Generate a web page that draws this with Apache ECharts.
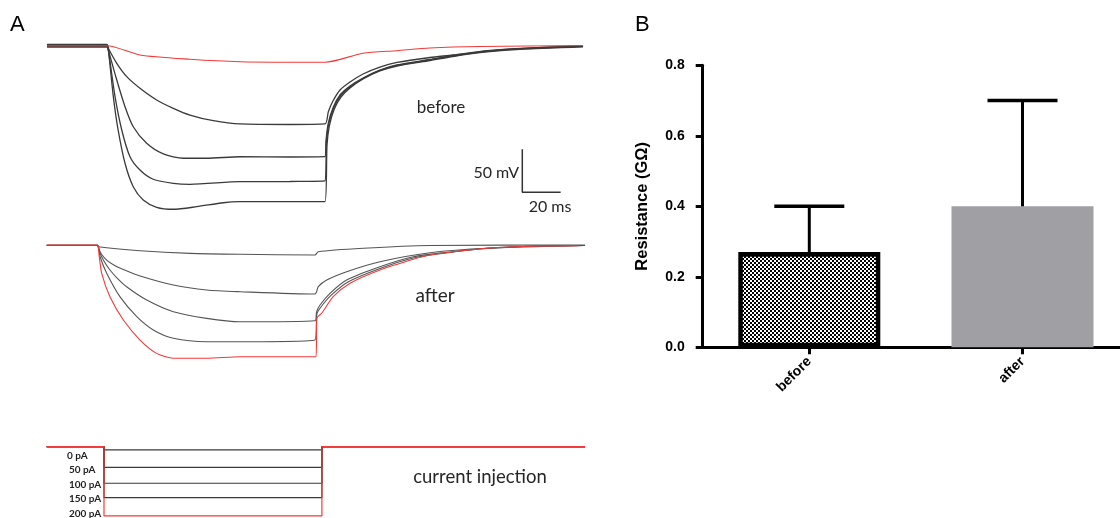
<!DOCTYPE html>
<html>
<head>
<meta charset="utf-8">
<script src="https://cdn.jsdelivr.net/npm/echarts@6/dist/echarts.min.js"></script>
<style>
html,body{margin:0;padding:0;background:#fff;overflow:hidden;width:1120px;height:518px;}
#chart{width:1130px;height:518px;}
</style>
</head>
<body>
<div id="chart"></div>
<script>
// ---------- Panel A: "before" traces (time in ms from pulse onset, membrane deflection in mV) ----------
const beforeRed = [[-31.3,0],[0,0],[17.2,-10.8],[43.3,-15.8],[69.4,-18.6],[113.7,-19.3],[133.6,-8.8],[151.3,-5.8],[168.5,-2.7],[194.6,-0.9],[248.4,0.2]];
const beforeT1 = [[-31.3,1.5],[0,1.5],[0.7,-3],[5.1,-20.5],[10.3,-36],[17.2,-49.5],[25.9,-63.1],[34.6,-72.8],[43.3,-80.6],[55.5,-87.2],[69.4,-91],[95.5,-91.6],[113.7,-91],[115.5,-76.7],[117.9,-64.3],[121.6,-51.5],[126.8,-42.2],[133.6,-32.9],[142.4,-24.8],[151.3,-19.5],[168.5,-13.7],[180.5,-10.8],[198.3,-5.8],[215.5,-3],[248.4,-0.3]];
const beforeT2 = [[-31.3,0.5],[0,0.5],[0.7,-5],[5.1,-39.9],[9.4,-70.9],[13.7,-94.2],[20.7,-113.5],[29.4,-125.9],[39.9,-130.9],[52,-130.9],[69.4,-129.1],[95.5,-129.4],[113.7,-129.1],[114.3,-109.7],[115.5,-89.9],[118.1,-71.3],[121.6,-57.3],[126.8,-46.9],[133.6,-37.6],[142.4,-28.3],[151.3,-22.4],[168.5,-16],[180.5,-11.4],[198.3,-6.2],[215.5,-3.3],[248.4,-0.6]];
const beforeT3 = [[-31.3,-0.5],[0,-0.5],[0.7,-5],[4.2,-59.3],[7.7,-98],[12,-129.1],[17.2,-144.5],[24.1,-155.3],[34.6,-160],[43.3,-161.2],[69.4,-158.1],[95.5,-157.9],[113.7,-157.3],[114.5,-112],[115.7,-91],[118.3,-72.4],[121.8,-58.5],[126.8,-48],[133.6,-38.1],[142.4,-28.8],[151.3,-23],[168.5,-16.6],[180.5,-12],[198.3,-6.7],[215.5,-3.8],[248.4,-0.9]];
const beforeT4 = [[-31.3,-1.5],[0,-1.5],[0.7,-5],[3.3,-59.3],[5.8,-98],[9.4,-136.7],[13.7,-164],[18.9,-179.4],[25.9,-187.9],[34.6,-190.2],[46.8,-187.2],[60.7,-182.6],[69.4,-181.4],[95.5,-181.2],[113.7,-181.4],[114.8,-115.5],[116,-93.4],[118.6,-73.6],[122.1,-59.7],[126.8,-49.2],[133.6,-38.7],[142.4,-29.4],[151.3,-23.6],[168.5,-17.2],[180.5,-12.6],[198.3,-7.3],[215.5,-4.1],[248.4,-1.3]];
const scaleBar = [[216.7,-120.5],[216.7,-170.5],[236.7,-170.5]];

// ---------- Panel A: "after" traces ----------
const afterA1 = [[-26.5,0],[0,0],[0.4,-2],[22.2,-6.6],[48.3,-9.7],[74.4,-10.8],[113.5,-11.6],[115.2,-7.8],[138.7,-3.8],[173.5,-0.6],[254.4,0]];
const afterA2 = [[-26.5,-0.6],[0,-0.6],[0.5,-4],[2.2,-11],[4.8,-17.5],[8.7,-23.5],[13.5,-28.5],[22.2,-36],[39.6,-46.5],[57,-52.3],[74.4,-54.3],[113.5,-57],[115.2,-48.5],[119.6,-40.7],[130,-31],[147.4,-19.4],[173.5,-9],[203.1,-3.8],[254.4,-0.6]];
const afterA3 = [[-26.5,-0.6],[0,-0.6],[0.8,-7],[3.2,-18],[6.5,-29.1],[10.5,-39],[15.2,-48.5],[25.7,-64],[39.6,-77.6],[57,-85.3],[74.4,-89.2],[113.5,-88],[114.3,-77.9],[116.1,-69.8],[121.3,-56.2],[130,-40.7],[147.4,-25.2],[164.8,-13.6],[185.7,-7.8],[203.1,-3.8],[229.2,-1.2],[254.4,-0.6]];
const afterA4 = [[-26.5,-0.6],[0,-0.6],[1.3,-13.4],[4.8,-32.9],[11.7,-60.1],[20.5,-83.4],[29.1,-98.8],[39.6,-108.5],[57,-112.5],[74.4,-112.5],[113.5,-110.5],[114.5,-80.2],[116.6,-72.1],[122.1,-58.1],[130.7,-43],[147.4,-27.3],[164.8,-15.1],[185.7,-8.1],[203.1,-4.1],[229.2,-1.2],[254.4,-0.6]];
const afterRed = [[-26.5,0],[0,0],[0.8,-11.6],[2.2,-32.9],[6.5,-60.1],[13.5,-87.2],[22.2,-110.5],[30.9,-126],[39.6,-131.7],[57,-131.7],[74.4,-129.9],[114,-129.9],[114.5,-84.9],[117,-79.4],[123,-60.1],[131.8,-44.5],[147.4,-29.1],[164.8,-16.6],[173.5,-11.6],[185.7,-7.8],[203.1,-3.8],[229.2,-1.2],[250.7,-0.8]];

// ---------- Panel A: current injection steps (pA, as drawn) ----------
const currentLevels = [-9.5, -59.5, -105.6, -147.2, -200];
const currentLabels = ['0 pA', '50 pA', '100 pA', '150 pA', '200 pA'];
const stepStart = -29.9, stepOn = 0, stepOff = 113.7, stepEnd = 251;

// ---------- Panel B: resistance bar chart ----------
const categories = ['before', 'after'];
const meanRes = [0.27, 0.40];
const semRes = [0.13, 0.30];
const yTicks = [0, 0.2, 0.4, 0.6, 0.8];

// checker pattern for the "before" bar
const pc = document.createElement('canvas');
pc.width = 4; pc.height = 4;
const pctx = pc.getContext('2d');
pctx.fillStyle = '#fff'; pctx.fillRect(0,0,4,4);
pctx.fillStyle = '#000'; pctx.fillRect(0,0,2,2); pctx.fillRect(2,2,2,2);

const chart = echarts.init(document.getElementById('chart'), null, {renderer:'canvas'});

function trace(data, xi, color, width, z) {
  return {type:'line', xAxisIndex:xi, yAxisIndex:xi, data:data, showSymbol:false, symbol:'none',
    smooth:0.25, lineStyle:{color:color, width:width}, silent:true, z:z||2};
}

const series = [];
series.push(trace(beforeT1, 0, '#3a3a3a', 1.3));
series.push(trace(beforeT2, 0, '#3a3a3a', 1.3));
series.push(trace(beforeT3, 0, '#3a3a3a', 1.3));
series.push(trace(beforeT4, 0, '#3a3a3a', 1.3));
series.push(trace(beforeRed, 0, '#f23a3a', 1.1, 3));
series.push({type:'line', xAxisIndex:0, yAxisIndex:0, data:scaleBar, showSymbol:false, symbol:'none',
  lineStyle:{color:'#333', width:1.5}, silent:true});

series.push(trace(afterA1, 1, '#555', 1.1));
series.push(trace(afterA2, 1, '#555', 1.1));
series.push(trace(afterA3, 1, '#555', 1.1));
series.push(trace(afterA4, 1, '#555', 1.1));
series.push(trace(afterRed, 1, '#f23a3a', 1.1, 3));

currentLevels.forEach((L, i) => {
  const d = [[stepStart,0],[stepOn,0],[stepOn,L],[stepOff,L],[stepOff,0],[stepEnd,0]];
  const isRed = i === currentLevels.length - 1;
  series.push({type:'line', xAxisIndex:2, yAxisIndex:2, data:d, showSymbol:false, symbol:'none',
    lineStyle:{color: isRed ? '#f23a3a' : '#3a3a3a', width:1.2}, silent:true, z: isRed ? 3 : 2});
});

series.push({type:'bar', xAxisIndex:3, yAxisIndex:3, barWidth:142,
  data:[
    {value:meanRes[0], itemStyle:{color:{image:pc, repeat:'repeat'}, borderColor:'#000', borderWidth:4.5}},
    {value:meanRes[1], itemStyle:{color:'#a09fa4', borderColor:'#a09fa4', borderWidth:3.5}}
  ], silent:true, z:2});

series.push({type:'custom', xAxisIndex:3, yAxisIndex:3, silent:true, z:3,
  data: categories.map((c,i) => [i, meanRes[i], meanRes[i] + semRes[i]]),
  encode:{x:0, y:2},
  renderItem: function(params, api) {
    const b = api.coord([api.value(0), api.value(1)]);
    const t = api.coord([api.value(0), api.value(2)]);
    const hw = 35;
    return {type:'group', children:[
      {type:'line', shape:{x1:b[0], y1:b[1], x2:t[0], y2:t[1]}, style:{stroke:'#000', lineWidth:3}},
      {type:'line', shape:{x1:t[0]-hw, y1:t[1], x2:t[0]+hw, y2:t[1]}, style:{stroke:'#000', lineWidth:3.5}}
    ]};
  }});

const txt = (x, y, s, size, opts) => Object.assign({type:'text', x:x, y:y,
  style:Object.assign({text:s, fontSize:size, fontFamily:'Lato', fill:'#262626', textVerticalAlign:'middle'}, opts||{})});

const graphics = [
  txt(10, 25, 'A', 22, {fontFamily:'Liberation Sans', fill:'#000'}),
  txt(635, 25, 'B', 22, {fontFamily:'Liberation Sans', fill:'#000'}),
  txt(441, 108, 'before', 17, {textAlign:'center'}),
  txt(435, 296, 'after', 19, {textAlign:'center'}),
  txt(480, 477, 'current injection', 18.5, {textAlign:'center'}),
  txt(519, 173, '50 mV', 16, {textAlign:'right'}),
  txt(550, 207, '20 ms', 16, {textAlign:'center'})
];
const labelY = [456, 470, 484.3, 498.3, 513.3];
currentLabels.forEach((s, i) => {
  graphics.push(txt(i === 0 ? 67 : 69, labelY[i], s, 10, {fontWeight:'bold', fill:'#1f1f1f'}));
});

const hiddenX = (gi, mn, mx) => ({gridIndex:gi, type:'value', min:mn, max:mx, show:false});
const hiddenY = (gi, mn, mx) => ({gridIndex:gi, type:'value', min:mn, max:mx, show:false});

chart.setOption({
  animation:false,
  backgroundColor:'#fff',
  grid:[
    {left:45.67, top:37.1, width:540.45, height:176.3},
    {left:45.75, top:236.4, width:540.45, height:124.7},
    {left:46.5, top:443.2, width:540.45, height:74.5},
    {left:702.7, top:65.3, width:426.4, height:282}
  ],
  xAxis:[
    hiddenX(0, -32, 250),
    hiddenX(1, -27, 255),
    hiddenX(2, -30, 252),
    {gridIndex:3, type:'category', data:categories,
      axisLine:{show:true, lineStyle:{color:'#000', width:3}},
      axisTick:{show:true, alignWithLabel:true, length:7, lineStyle:{color:'#000', width:3}},
      axisLabel:{rotate:45, fontWeight:'bold', fontSize:14, color:'#000', fontFamily:'Liberation Sans', margin:12},
      splitLine:{show:false}}
  ],
  yAxis:[
    hiddenY(0, -195, 10),
    hiddenY(1, -135, 10),
    hiddenY(2, -205, 10),
    {gridIndex:3, type:'value', min:yTicks[0], max:yTicks[yTicks.length-1], interval:yTicks[1]-yTicks[0],
      name:'Resistance (GΩ)', nameLocation:'middle', nameGap:52,
      nameTextStyle:{fontWeight:'bold', fontSize:16.5, color:'#000', fontFamily:'Liberation Sans'},
      axisLine:{show:true, lineStyle:{color:'#000', width:3}},
      axisTick:{show:true, length:7, lineStyle:{color:'#000', width:3}},
      axisLabel:{fontWeight:'bold', fontSize:14, color:'#000', fontFamily:'Liberation Sans', margin:18,
        formatter: v => v.toFixed(1)},
      splitLine:{show:false}}
  ],
  graphic: graphics,
  series: series
});
</script>
</body>
</html>
